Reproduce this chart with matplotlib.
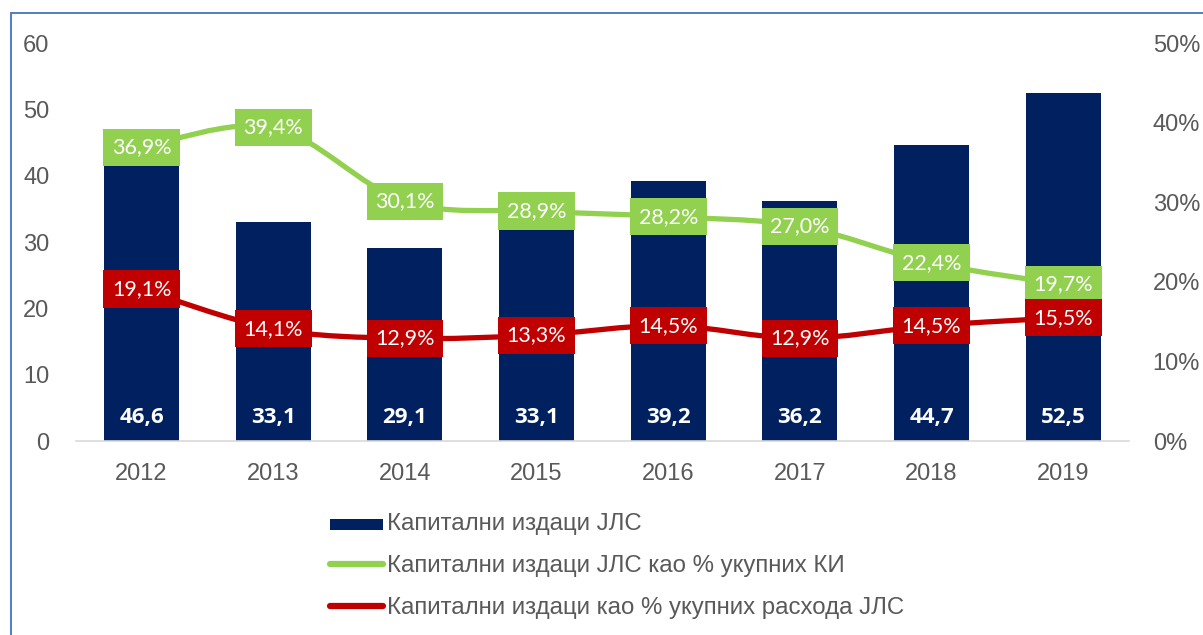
import numpy as np
import matplotlib.pyplot as plt
from matplotlib.patches import Rectangle, PathPatch
from matplotlib.path import Path
from matplotlib.lines import Line2D

years = ['2012', '2013', '2014', '2015', '2016', '2017', '2018', '2019']
capex = [46.6, 33.1, 29.1, 33.1, 39.2, 36.2, 44.7, 52.5]
share_total_ki = [36.9, 39.4, 30.1, 28.9, 28.2, 27.0, 22.4, 19.7]
share_expenditure = [19.1, 14.1, 12.9, 13.3, 14.5, 12.9, 14.5, 15.5]

navy = '#002060'
green = '#92D050'
red = '#C00000'
gray = '#595959'

plt.rcParams['font.family'] = ['Liberation Sans', 'DejaVu Sans']


def smooth_path(xs, ys):
    # Excel-style smoothed line: cubic bezier through the points
    pts = np.column_stack([xs, ys]).astype(float)
    n = len(pts)
    verts = [pts[0]]
    codes = [Path.MOVETO]
    for i in range(n - 1):
        p0 = pts[i - 1] if i > 0 else pts[i]
        p1, p2 = pts[i], pts[i + 1]
        p3 = pts[i + 2] if i + 2 < n else pts[i + 1]
        verts += [p1 + (p2 - p0) / 6, p2 - (p3 - p1) / 6, p2]
        codes += [Path.CURVE4] * 3
    return Path(verts, codes)


fig = plt.figure(figsize=(12.03, 6.35), dpi=100)
ax = fig.add_axes([0.063, 0.3055, 0.8755, 0.6265])
ax2 = ax.twinx()

x = np.arange(len(years))
ax.bar(x, capex, width=0.57, color=navy, zorder=2)
for xi, v in zip(x, capex):
    ax.text(xi, 3.6, f'{v:.1f}'.replace('.', ','), ha='center', va='center',
            color='white', fontsize=16, fontweight='bold', family='Open Sans', zorder=6)

ax.set_xlim(-0.5, len(years) - 0.5)
ax.set_ylim(0, 60)
ax.set_yticks(range(0, 61, 10))
ax.set_xticks(x)
ax.set_xticklabels(years)

ax2.set_ylim(0, 50)
ax2.set_yticks(range(0, 51, 10))
ax2.set_yticklabels([f'{t}%' for t in range(0, 51, 10)])

for series, col in [(share_total_ki, green), (share_expenditure, red)]:
    ax2.add_patch(PathPatch(smooth_path(x, series), fc='none', ec=col, lw=3.8,
                            capstyle='round', zorder=3))
    for xi, v in zip(x, series):
        ax2.text(xi, v, f'{v:.1f}%'.replace('.', ','), ha='center', va='center',
                 color='white', fontsize=15.5, family='Lato', zorder=5,
                 bbox=dict(boxstyle='square,pad=0.4', fc=col, ec='none'))

for a in (ax, ax2):
    for s in a.spines.values():
        s.set_visible(False)
    a.tick_params(length=0, labelsize=17, colors=gray)
ax.spines['bottom'].set_visible(True)
ax.spines['bottom'].set_color('#D9D9D9')
ax.spines['bottom'].set_linewidth(1.2)
ax.tick_params(axis='x', pad=16)
ax.tick_params(axis='y', pad=19)
ax2.tick_params(axis='y', pad=17)

handles = [Rectangle((0, 0), 1, 1, fc=navy, ec='none'),
           Line2D([], [], color=green, lw=4.5, solid_capstyle='round'),
           Line2D([], [], color=red, lw=4.5, solid_capstyle='round')]
labels = ['Капитални издаци ЈЛС',
          'Капитални издаци ЈЛС као % укупних КИ',
          'Капитални издаци као % укупних расхода ЈЛС']
leg = fig.legend(handles, labels, loc='upper left', bbox_to_anchor=(0.2647, 0.211),
                 frameon=False, fontsize=17.3, labelcolor=gray, handlelength=2.17,
                 handletextpad=0.2, labelspacing=0.83, borderpad=0)
leg.legend_handles[0].set_height(8)

fig.patches.append(Rectangle((0.0092, -0.1), 1.2, 1.0795, transform=fig.transFigure,
                             fill=False, ec='#4472C4', lw=1.3))

fig.savefig('out.png', dpi=100)
